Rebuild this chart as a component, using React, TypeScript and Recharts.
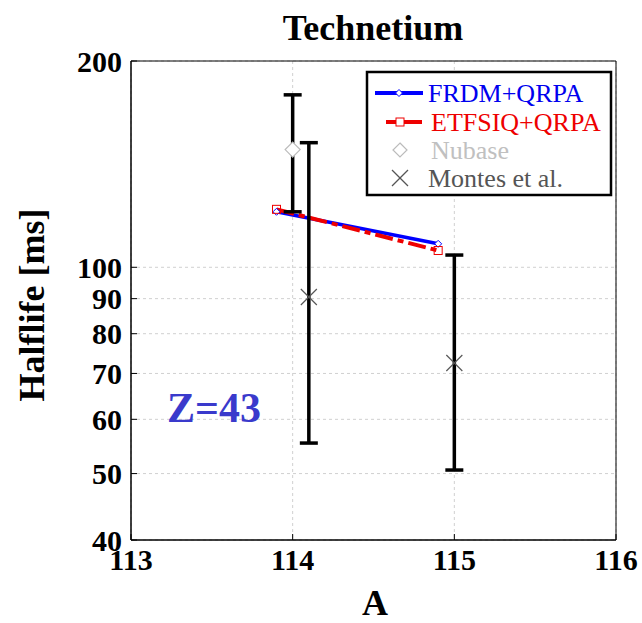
import React from 'react';
import {
  ComposedChart,
  Line,
  Scatter,
  XAxis,
  YAxis,
  CartesianGrid,
  ErrorBar,
  ReferenceArea,
} from 'recharts';

// ---- data ----
const frdmA = [113.9, 114.9];
const frdmT = [120.5, 108.2];

const etfsiqA = [113.9, 114.9];
const etfsiqT = [121.5, 105.8];

const nubaseA = [114.0];
const nubaseT = [148.5];
const nubaseLow = [120.5];
const nubaseHigh = [178.5];

const montesA = [114.1, 115.0];
const montesT = [90.5, 72.5];
const montesLow = [55.4, 50.6];
const montesHigh = [152.0, 104.2];

const xTicks = [113, 114, 115, 116];
const yTicks = [40, 50, 60, 70, 80, 90, 100, 200];

const frdmData = frdmA.map((a, i) => ({ a, t: frdmT[i] }));
const etfsiqData = etfsiqA.map((a, i) => ({ a, t: etfsiqT[i] }));
const nubaseData = nubaseA.map((a, i) => ({
  a,
  t: nubaseT[i],
  err: [nubaseT[i] - nubaseLow[i], nubaseHigh[i] - nubaseT[i]],
}));
const montesData = montesA.map((a, i) => ({
  a,
  t: montesT[i],
  err: [montesT[i] - montesLow[i], montesHigh[i] - montesT[i]],
}));

const FONT = '"Liberation Serif", "Times New Roman", serif';

const DiamondDot = (props: any) => {
  const { cx, cy } = props;
  if (cx == null || cy == null) return null;
  const r = 3.5;
  return (
    <path
      d={`M${cx},${cy - r} L${cx + r},${cy} L${cx},${cy + r} L${cx - r},${cy} Z`}
      fill="white"
      stroke="#0000ff"
      strokeWidth={1}
    />
  );
};

const SquareDot = (props: any) => {
  const { cx, cy } = props;
  if (cx == null || cy == null) return null;
  const r = 4;
  return (
    <rect x={cx - r} y={cy - r} width={2 * r} height={2 * r} fill="none" stroke="#ee0000" strokeWidth={1} />
  );
};

const NubaseShape = (props: any) => {
  const { cx, cy } = props;
  if (cx == null || cy == null) return null;
  const r = 7.5;
  return (
    <path
      d={`M${cx},${cy - r} L${cx + r},${cy} L${cx},${cy + r} L${cx - r},${cy} Z`}
      fill="white"
      stroke="#bbbbbb"
      strokeWidth={1.2}
    />
  );
};

const CrossShape = (props: any) => {
  const { cx, cy } = props;
  if (cx == null || cy == null) return null;
  const r = 8;
  return (
    <g stroke="#555555" strokeWidth={1.2}>
      <line x1={cx - r} y1={cy - r} x2={cx + r} y2={cy + r} />
      <line x1={cx - r} y1={cy + r} x2={cx + r} y2={cy - r} />
    </g>
  );
};

export default function App() {
  return (
    <div style={{ position: 'absolute', left: 0, top: 0, width: 642, height: 623, background: 'white' }}>
      <ComposedChart
        width={642}
        height={623}
        margin={{ top: 61, right: 26, bottom: 0, left: 0 }}
      >
        <CartesianGrid stroke="#d0d0d0" strokeDasharray="3 3" />
        <XAxis
          dataKey="a"
          type="number"
          domain={[113, 116]}
          ticks={xTicks}
          interval={0}
          allowDataOverflow
          height={83}
          axisLine={{ stroke: 'black', strokeWidth: 1 }}
          tickLine={{ stroke: 'black' }}
          tickSize={-6}
          tickMargin={15}
          tick={{ fill: 'black', fontSize: 30, fontWeight: 'bold', fontFamily: FONT }}
        />
        <YAxis
          dataKey="t"
          type="number"
          scale="log"
          domain={[40, 200]}
          ticks={yTicks}
          interval={0}
          allowDataOverflow
          width={131}
          axisLine={{ stroke: 'black', strokeWidth: 1 }}
          tickLine={{ stroke: 'black' }}
          tickSize={-6}
          tickMargin={15}
          tick={{ fill: 'black', fontSize: 30, fontWeight: 'bold', fontFamily: FONT }}
        />
        <ReferenceArea x1={113} x2={116} y1={40} y2={200} fill="none" stroke="black" strokeWidth={1} ifOverflow="visible" />
        <Line
          data={frdmData}
          dataKey="t"
          stroke="#0000ff"
          strokeWidth={3.5}
          dot={<DiamondDot />}
          isAnimationActive={false}
        />
        <Line
          data={etfsiqData}
          dataKey="t"
          stroke="#ee0000"
          strokeWidth={4}
          strokeDasharray="18 5 6 5"
          dot={<SquareDot />}
          isAnimationActive={false}
        />
        <Scatter data={nubaseData} dataKey="t" shape={<NubaseShape />} isAnimationActive={false}>
          <ErrorBar dataKey="err" direction="y" width={9} stroke="black" strokeWidth={3.5} />
        </Scatter>
        <Scatter data={montesData} dataKey="t" shape={<CrossShape />} isAnimationActive={false}>
          <ErrorBar dataKey="err" direction="y" width={9} stroke="black" strokeWidth={3.5} />
        </Scatter>
      </ComposedChart>
      <svg
        width={642}
        height={623}
        style={{ position: 'absolute', left: 0, top: 0, pointerEvents: 'none' }}
        fontFamily={FONT}
      >
        <text x={373} y={40} textAnchor="middle" fontSize={36} fontWeight="bold" fill="black">
          Technetium
        </text>
        <text x={375} y={615} textAnchor="middle" fontSize={36} fontWeight="bold" fill="black">
          A
        </text>
        <text
          x={44}
          y={305}
          textAnchor="middle"
          fontSize={36}
          fontWeight="bold"
          fill="black"
          transform="rotate(-90, 44, 305)"
        >
          Halflife [ms]
        </text>
        <text x={167} y={422} fontSize={42} fontWeight="bold" fill="#3a3acc">
          Z=43
        </text>
        {/* legend */}
        <rect x={367} y={72} width={244} height={123} fill="white" stroke="black" strokeWidth={2.5} />
        <line x1={375} y1={93} x2={423} y2={93} stroke="#0000ff" strokeWidth={4} />
        <path d="M399,89.5 L402.5,93 L399,96.5 L395.5,93 Z" fill="white" stroke="#0000ff" strokeWidth={1} />
        <text x={428} y={102} fontSize={26} fill="#0000ee">FRDM+QRPA</text>
        <line x1={386} y1={122} x2={422} y2={122} stroke="#ee0000" strokeWidth={4} />
        <rect x={396} y={118} width={8} height={8} fill="white" stroke="#ee0000" strokeWidth={1} />
        <text x={431} y={131} fontSize={26} fill="#ee0000">ETFSIQ+QRPA</text>
        <path d="M400,143 L407,150 L400,157 L393,150 Z" fill="white" stroke="#bbbbbb" strokeWidth={1.2} />
        <text x={431} y={159} fontSize={26} fill="#c0c0c0">Nubase</text>
        <g stroke="#555555" strokeWidth={1.2}>
          <line x1={392} y1={170} x2={408} y2={186} />
          <line x1={392} y1={186} x2={408} y2={170} />
        </g>
        <text x={428} y={187} fontSize={26} fill="#555555">Montes et al.</text>
      </svg>
    </div>
  );
}
